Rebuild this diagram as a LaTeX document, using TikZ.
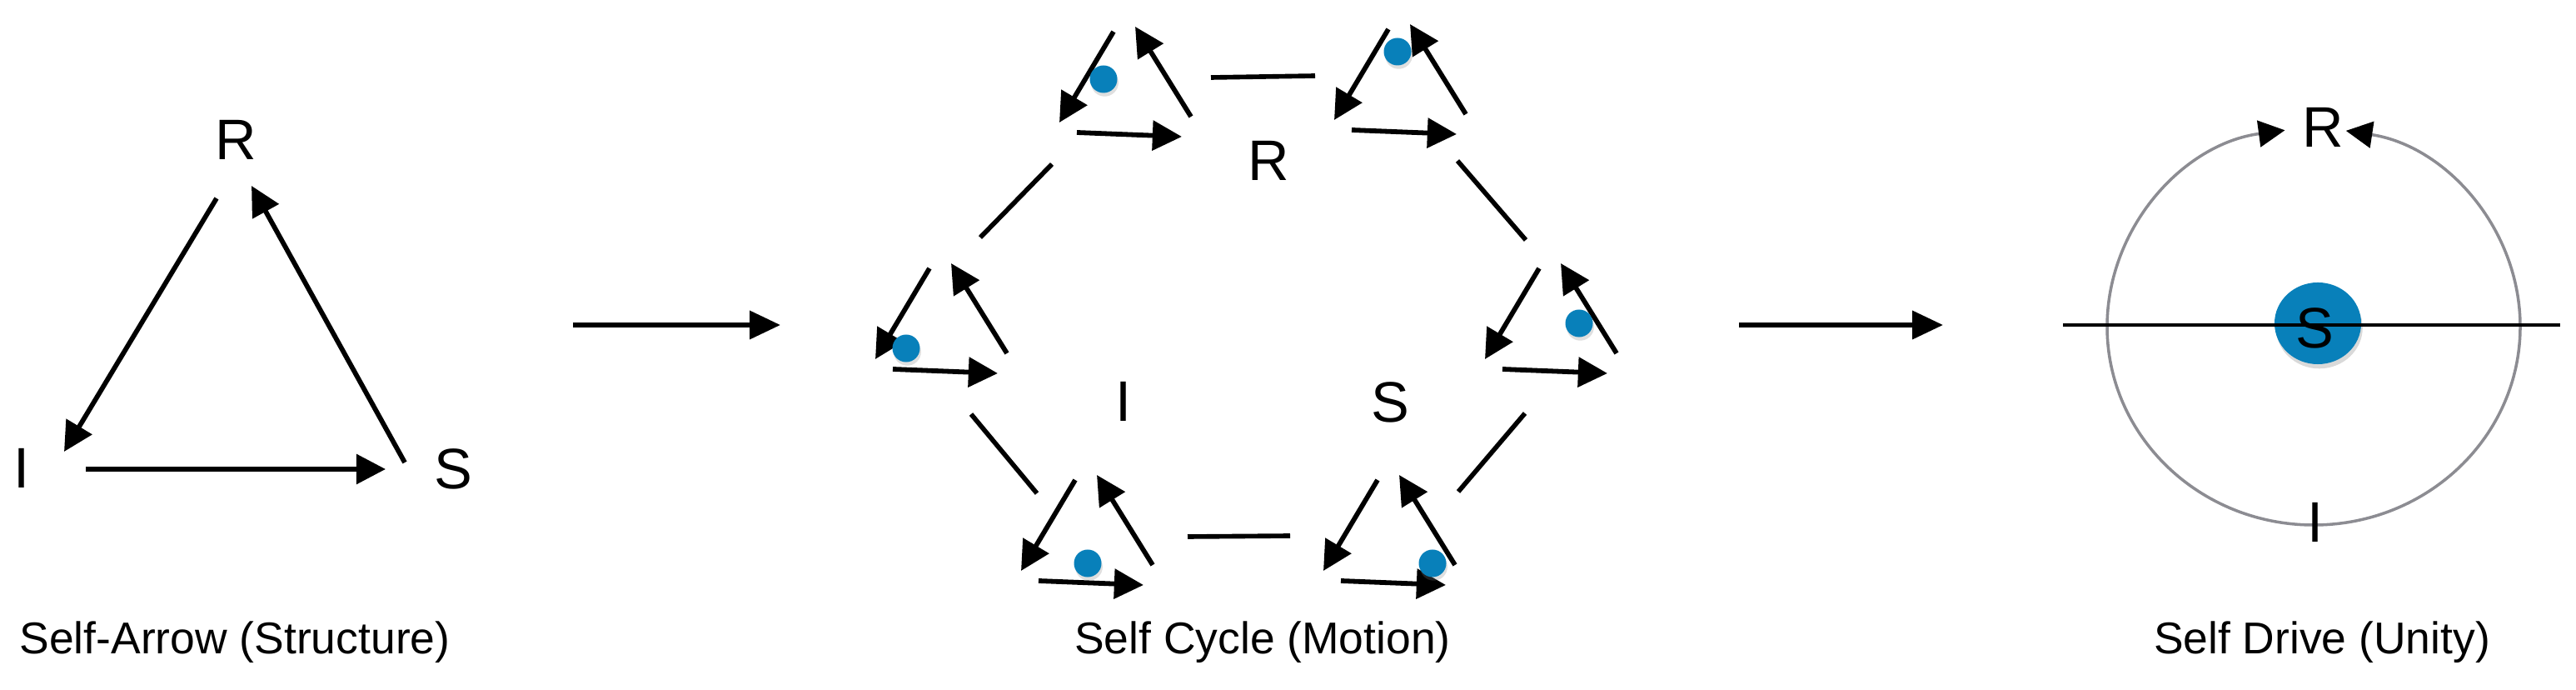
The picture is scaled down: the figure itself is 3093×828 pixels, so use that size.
\documentclass[tikz,border=0pt]{standalone}
\usepackage{fontspec}
\setmainfont{Liberation Sans}
\usetikzlibrary{arrows.meta,shadows,shapes.geometric}
\definecolor{dotblue}{RGB}{8,128,186}
\definecolor{ringgray}{RGB}{140,140,146}
\tikzset{
  arr/.style={line width=1.65pt,-{Triangle[length=10pt,width=10pt]}},
  bigarr/.style={line width=1.6pt,-{Triangle[length=10.5pt,width=9.5pt]}},
  conn/.style={line width=1.6pt},
  lbl/.style={inner sep=0pt,font=\fontsize{19.5}{20}\selectfont},
  capt/.style={inner sep=0pt,anchor=base,font=\fontsize{15.2}{16}\selectfont},
  bdot/.style={circle,fill=dotblue,inner sep=0pt,minimum size=0.33cm,
    drop shadow={shadow xshift=0.4pt,shadow yshift=-1.2pt,opacity=0.25}},
  minitri/.pic={
    \coordinate (-a) at (0,0);   \coordinate (-b) at (-65,109);
    \coordinate (-c) at (93,102); \coordinate (-d) at (26,-6);
    \coordinate (-e) at (-44,121); \coordinate (-f) at (82,126);
    \draw[arr] (-a) -- (-b);
    \draw[arr] (-c) -- (-d);
    \draw[arr] (-e) -- (-f);
  }
}
\begin{document}
\begin{tikzpicture}[x=0.01cm,y=-0.01cm]
\useasboundingbox (0,0) rectangle (3093,828);

% ---------- Panel 1: Self-Arrow ----------
\node[lbl] (R1) at (283,168) {R};
\node[lbl] (I1) at (26,562) {I};
\node[lbl] (S1) at (544,563) {S};
\coordinate (p1a) at (260,238); \coordinate (p1b) at (77,542);
\coordinate (p1c) at (486,555); \coordinate (p1d) at (302,223);
\coordinate (p1e) at (103,563); \coordinate (p1f) at (463,563);
\draw[arr] (p1a) -- (p1b);
\draw[arr] (p1c) -- (p1d);
\draw[arr] (p1e) -- (p1f);
\node[capt] (cap1) at (282,785) {Self-Arrow (Structure)};

% ---------- big arrows ----------
\coordinate (ba1) at (688,390); \coordinate (bb1) at (937,390);
\coordinate (ba2) at (2088,390); \coordinate (bb2) at (2333,390);
\draw[bigarr] (ba1) -- (bb1);
\draw[bigarr] (ba2) -- (bb2);

% ---------- Panel 2: Self Cycle ----------
\pic (t1) at (1337,38) {minitri};
\pic (t2) at (1667,35) {minitri};
\pic (t3) at (1848,322) {minitri};
\pic (t4) at (1654,576) {minitri};
\pic (t5) at (1291,576) {minitri};
\pic (t6) at (1116,322) {minitri};

\coordinate (k1a) at (1454,93);  \coordinate (k1b) at (1579,91);
\coordinate (k2a) at (1750,193); \coordinate (k2b) at (1832,288);
\coordinate (k3a) at (1831,496); \coordinate (k3b) at (1751,590);
\coordinate (k4a) at (1549,643); \coordinate (k4b) at (1426,644);
\coordinate (k5a) at (1245,592); \coordinate (k5b) at (1166,497);
\coordinate (k6a) at (1177,285); \coordinate (k6b) at (1263,197);
\draw[conn] (k1a) -- (k1b);
\draw[conn] (k2a) -- (k2b);
\draw[conn] (k3a) -- (k3b);
\draw[conn] (k4a) -- (k4b);
\draw[conn] (k5a) -- (k5b);
\draw[conn] (k6a) -- (k6b);

\node[bdot] (d1) at (1325,95) {};
\node[bdot] (d2) at (1678,62) {};
\node[bdot] (d3) at (1896,388) {};
\node[bdot] (d4) at (1720,676) {};
\node[bdot] (d5) at (1306,676) {};
\node[bdot] (d6) at (1088,418) {};

\node[lbl] (R2) at (1523,193) {R};
\node[lbl] (I2) at (1349,482) {I};
\node[lbl] (S2) at (1669,483) {S};
\node[capt] (cap2) at (1516,785) {Self Cycle (Motion)};

% ---------- Panel 3: Self Drive ----------
\coordinate (bot) at (2778,630);
\draw[ringgray,line width=1pt,-{Triangle[length=9pt,width=9pt,color=black]}]
  (bot) arc[start angle=90,end angle=262,x radius=248,y radius=238];
\draw[ringgray,line width=1pt,-{Triangle[length=9pt,width=9pt,color=black]}]
  (bot) arc[start angle=90,end angle=-81,x radius=248,y radius=238];
\node[ellipse,fill=dotblue,inner sep=0pt,minimum width=1.04cm,minimum height=0.98cm,
  drop shadow={shadow xshift=0.5pt,shadow yshift=-1.5pt,opacity=0.3}] (blob) at (2783,388) {};
\coordinate (hl) at (2477,390); \coordinate (hr) at (3074,390);
\draw[line width=1.35pt] (hl) -- (hr);
\node[lbl] (S3) at (2779,394) {S};
\node[lbl] (R3) at (2789,153) {R};
\node[lbl] (I3) at (2780,627) {I};
\node[capt] (cap3) at (2788,785) {Self Drive (Unity)};
\end{tikzpicture}
\end{document}
